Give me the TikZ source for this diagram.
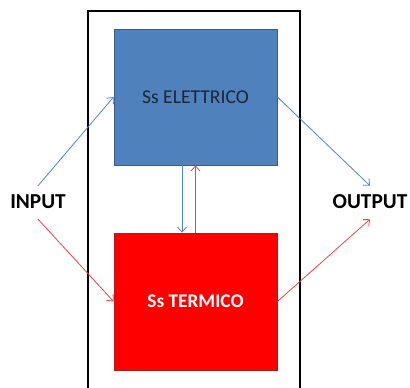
\documentclass[tikz,border=0pt]{standalone}
\usepackage{fontspec}
\setmainfont{Carlito}
\usetikzlibrary{arrows.meta}
\definecolor{boxblue}{HTML}{4F81BD}
\definecolor{boxblueline}{HTML}{385D8A}
\definecolor{boxred}{HTML}{FF0000}
\definecolor{boxredline}{HTML}{B51A1A}
\definecolor{arrblue}{HTML}{4F86C6}
\definecolor{arrred}{HTML}{E0474C}
\definecolor{txtnavy}{HTML}{1C2636}
\begin{document}
\begin{tikzpicture}[x=1pt,y=1pt,
  sysbox/.style={draw, line width=0.8pt, minimum width=163pt, minimum height=136pt, inner sep=0pt},
  lbl/.style={font=\fontsize{21.3}{23}\selectfont\bfseries, text=black, inner sep=0pt},
  flow/.style={line width=0.8pt, -{Straight Barb[length=5pt,width=9pt,line width=0.8pt]}}]
\useasboundingbox (0,0) rectangle (410,-388);
\fill[white] (0,0) rectangle (410,-388);
\draw[line width=2.4pt] (88,-390) -- (88,-11) -- (300,-11) -- (300,-390);
\node[sysbox, fill=boxblue, draw=boxblueline, text=txtnavy, font=\fontsize{19.6}{21}\selectfont] (elet) at (195.5,-97) {Ss ELETTRICO};
\node[sysbox, fill=boxred, draw=boxredline, text=white, font=\fontsize{19.3}{21}\selectfont\bfseries, minimum height=137pt] (term) at (195.5,-301.5) {Ss TERMICO};
\node[lbl] (in) at (38,-202) {INPUT};
\node[lbl] (out) at (370,-202) {OUTPUT};
\draw[flow, arrblue] ([yshift=9pt]in.north) -- (elet.west);
\draw[flow, arrblue] (elet.east) -- ([yshift=9pt]out.north);
\draw[flow, arrred] ([yshift=-10pt]in.south) -- (term.west);
\draw[flow, arrred] (term.east) -- ([yshift=-10pt]out.south);
\draw[flow, arrblue] ([xshift=-13.5pt]elet.south) -- ([xshift=-13.5pt]term.north);
\draw[flow, arrred] ([xshift=0pt]term.north) -- ([xshift=0pt]elet.south);
\end{tikzpicture}
\end{document}
